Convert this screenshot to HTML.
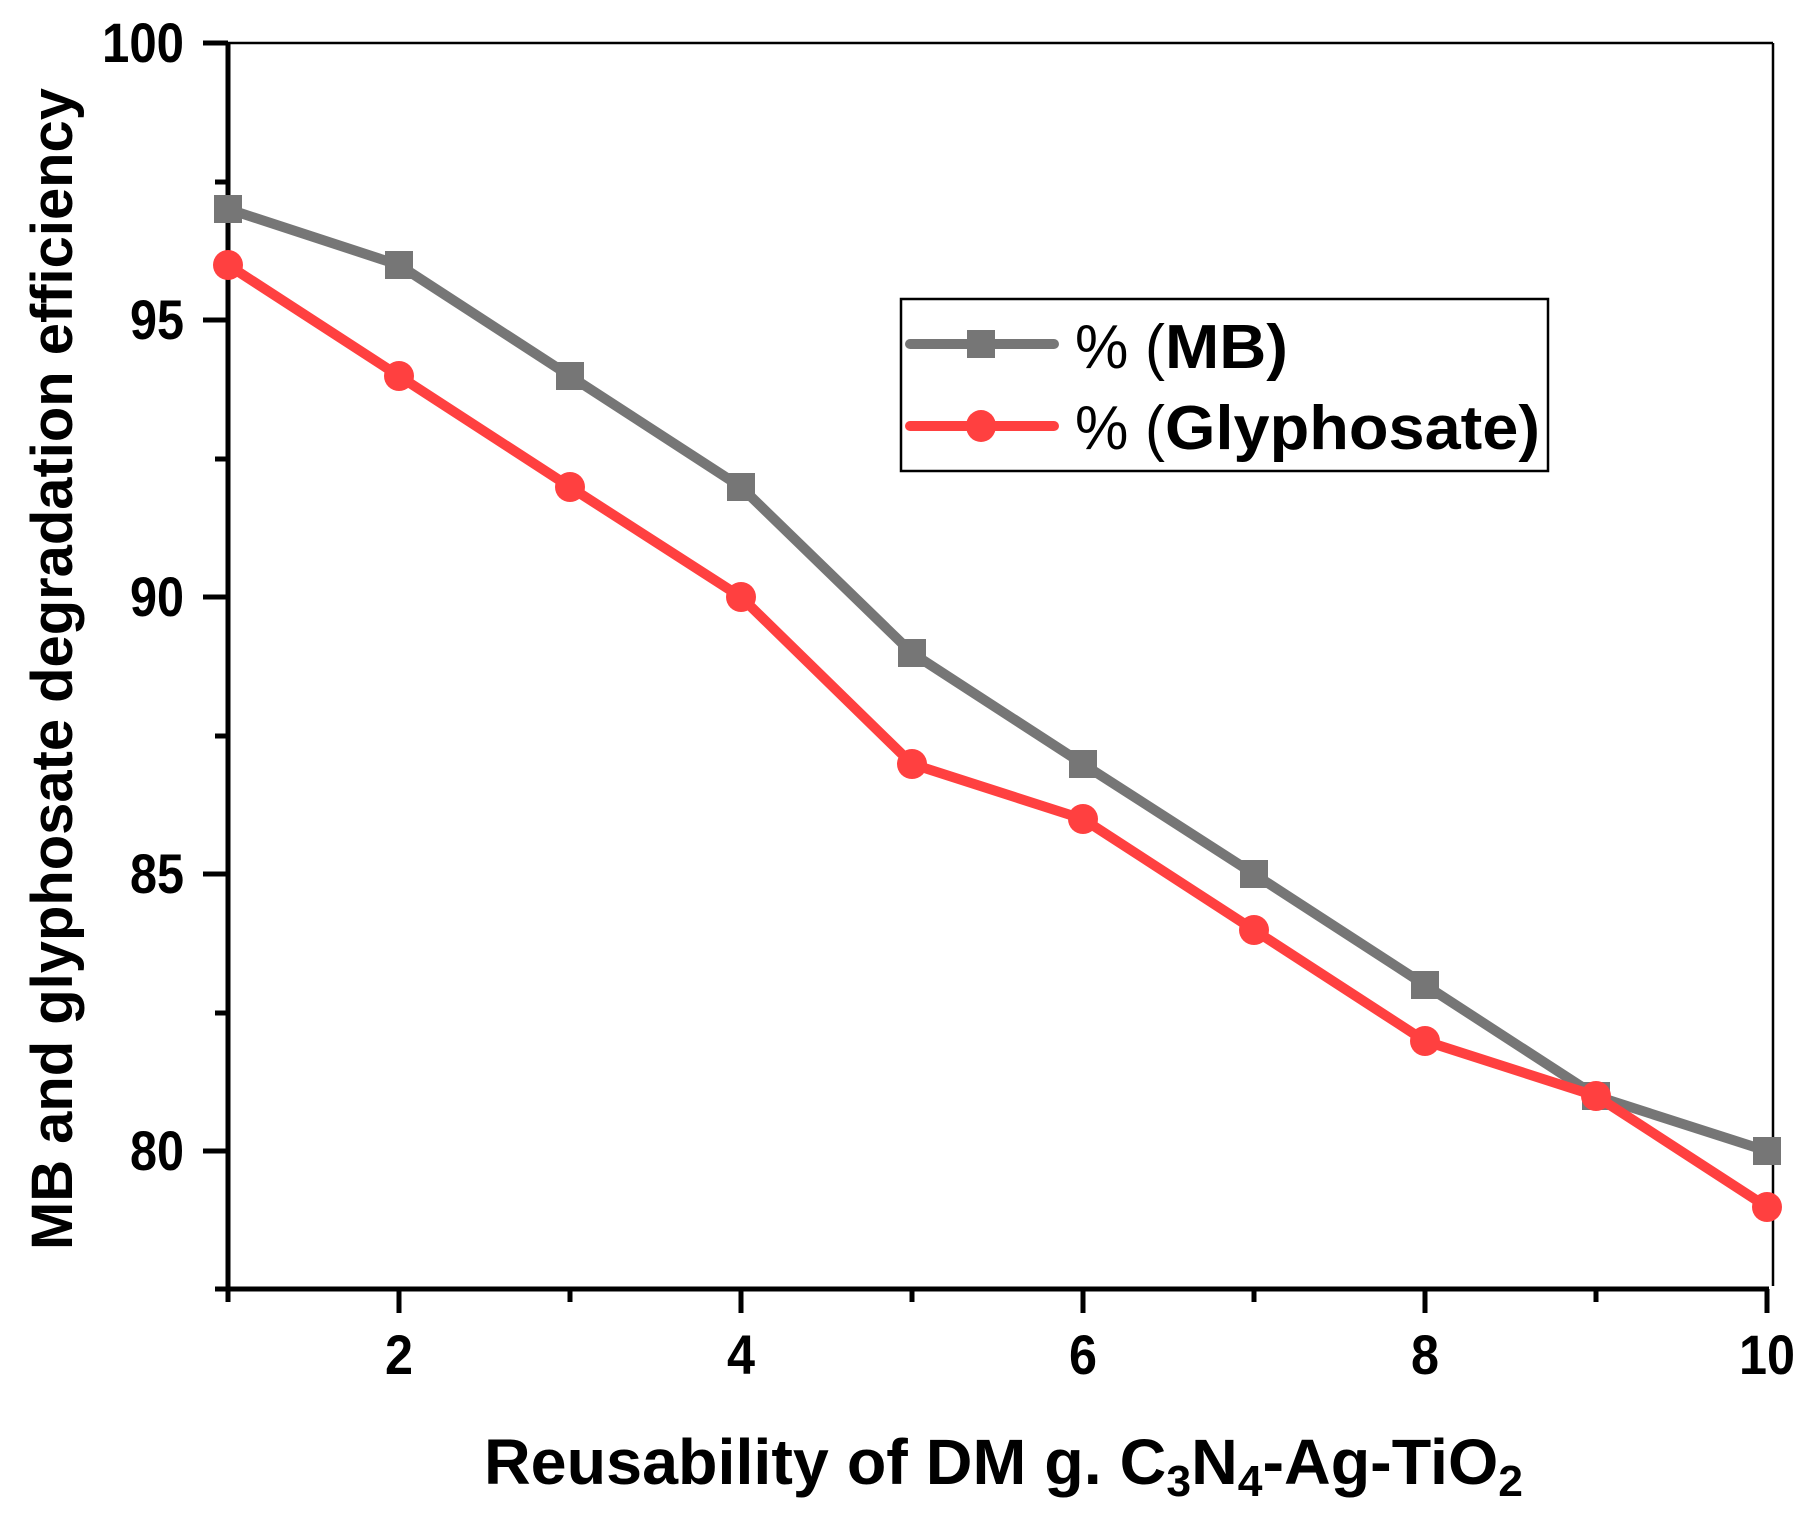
<!DOCTYPE html>
<html><head><meta charset="utf-8"><style>html,body{margin:0;padding:0;background:#fff}svg{display:block}</style></head>
<body>
<svg width="1807" height="1519" viewBox="0 0 1807 1519" xmlns="http://www.w3.org/2000/svg" font-family="Liberation Sans, sans-serif" font-weight="bold">
<rect width="1807" height="1519" fill="#fff"/>
<line x1="228" y1="43" x2="1773" y2="43" stroke="#000" stroke-width="2.5"/>
<line x1="1773" y1="43" x2="1773" y2="1286" stroke="#000" stroke-width="2.5"/>
<line x1="228" y1="43" x2="228" y2="1302" stroke="#000" stroke-width="5"/>
<line x1="215" y1="1289" x2="1769" y2="1289" stroke="#000" stroke-width="5"/>
<g stroke="#000" stroke-width="5">
<line x1="203" y1="43" x2="228" y2="43"/><line x1="203" y1="320" x2="228" y2="320"/><line x1="203" y1="597" x2="228" y2="597"/><line x1="203" y1="874" x2="228" y2="874"/><line x1="203" y1="1151" x2="228" y2="1151"/>
<line x1="215" y1="182" x2="228" y2="182"/><line x1="215" y1="459" x2="228" y2="459"/><line x1="215" y1="736" x2="228" y2="736"/><line x1="215" y1="1013" x2="228" y2="1013"/>
<line x1="399" y1="1289" x2="399" y2="1313"/><line x1="741" y1="1289" x2="741" y2="1313"/><line x1="1083" y1="1289" x2="1083" y2="1313"/><line x1="1425" y1="1289" x2="1425" y2="1313"/><line x1="1767" y1="1289" x2="1767" y2="1313"/>
<line x1="570" y1="1289" x2="570" y2="1302"/><line x1="912" y1="1289" x2="912" y2="1302"/><line x1="1254" y1="1289" x2="1254" y2="1302"/><line x1="1596" y1="1289" x2="1596" y2="1302"/>
</g>
<g font-size="56" text-anchor="end">
<text x="184" y="62" textLength="82" lengthAdjust="spacingAndGlyphs">100</text>
<text x="184" y="339" textLength="54" lengthAdjust="spacingAndGlyphs">95</text>
<text x="184" y="616" textLength="54" lengthAdjust="spacingAndGlyphs">90</text>
<text x="184" y="893" textLength="54" lengthAdjust="spacingAndGlyphs">85</text>
<text x="184" y="1170" textLength="54" lengthAdjust="spacingAndGlyphs">80</text>
</g>
<g font-size="56" text-anchor="middle">
<text x="399" y="1374" textLength="28" lengthAdjust="spacingAndGlyphs">2</text><text x="741" y="1374" textLength="28" lengthAdjust="spacingAndGlyphs">4</text><text x="1083" y="1374" textLength="28" lengthAdjust="spacingAndGlyphs">6</text><text x="1425" y="1374" textLength="28" lengthAdjust="spacingAndGlyphs">8</text><text x="1767" y="1374" textLength="56" lengthAdjust="spacingAndGlyphs">10</text>
</g>
<text x="484" y="1484" font-size="64" textLength="1039" lengthAdjust="spacingAndGlyphs">Reusability of DM g. C<tspan font-size="44" dy="12">3</tspan><tspan dy="-12">N</tspan><tspan font-size="44" dy="12">4</tspan><tspan dy="-12">-Ag-TiO</tspan><tspan font-size="44" dy="12">2</tspan></text>
<text transform="translate(72,1250) rotate(-90)" font-size="58" textLength="1162" lengthAdjust="spacingAndGlyphs">MB and glyphosate degradation efficiency</text>
<polyline fill="none" stroke="#767676" stroke-width="10" stroke-linejoin="round" points="228,209 399,265 570,376 741,487 912,653 1083,764 1254,874 1425,985 1596,1096 1767,1151"/>
<g fill="#767676">
<rect x="214" y="195" width="28" height="28"/><rect x="385" y="251" width="28" height="28"/><rect x="556" y="362" width="28" height="28"/><rect x="727" y="473" width="28" height="28"/><rect x="898" y="639" width="28" height="28"/><rect x="1069" y="750" width="28" height="28"/><rect x="1240" y="860" width="28" height="28"/><rect x="1411" y="971" width="28" height="28"/><rect x="1582" y="1082" width="28" height="28"/><rect x="1753" y="1137" width="28" height="28"/>
</g>
<polyline fill="none" stroke="#ff4040" stroke-width="10" stroke-linejoin="round" points="228,265 399,376 570,487 741,597 912,764 1083,819 1254,930 1425,1041 1596,1096 1767,1207"/>
<g fill="#ff4040">
<circle cx="228" cy="265" r="15"/><circle cx="399" cy="376" r="15"/><circle cx="570" cy="487" r="15"/><circle cx="741" cy="597" r="15"/><circle cx="912" cy="764" r="15"/><circle cx="1083" cy="819" r="15"/><circle cx="1254" cy="930" r="15"/><circle cx="1425" cy="1041" r="15"/><circle cx="1596" cy="1096" r="15"/><circle cx="1767" cy="1207" r="15"/>
</g>
<rect x="901" y="299" width="647" height="172" fill="#fff" stroke="#000" stroke-width="2.5"/>
<line x1="910" y1="344" x2="1054" y2="344" stroke="#767676" stroke-width="10" stroke-linecap="round"/>
<rect x="967" y="330" width="28" height="28" fill="#767676"/>
<line x1="910" y1="426" x2="1054" y2="426" stroke="#ff4040" stroke-width="10" stroke-linecap="round"/>
<ellipse cx="981" cy="426" rx="15" ry="16" fill="#ff4040"/>
<text x="1075" y="368" font-size="62"><tspan font-weight="normal" textLength="90" lengthAdjust="spacingAndGlyphs">% (</tspan><tspan textLength="123" lengthAdjust="spacingAndGlyphs">MB)</tspan></text>
<text x="1075" y="449" font-size="62"><tspan font-weight="normal" textLength="90" lengthAdjust="spacingAndGlyphs">% (</tspan><tspan textLength="375" lengthAdjust="spacingAndGlyphs">Glyphosate)</tspan></text>
</svg>
</body></html>
